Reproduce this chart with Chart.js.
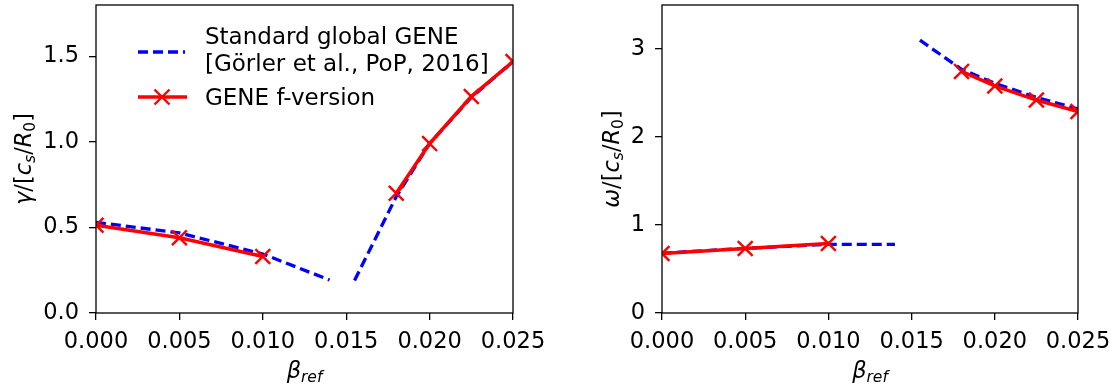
<!DOCTYPE html>
<html>
<head>
<meta charset="utf-8">
<script src="https://cdn.jsdelivr.net/npm/chart.js@4.4.1/dist/chart.umd.min.js"></script>
<style>
  body { margin: 0; background: #fff; }
  .panel { position: absolute; top: 0; height: 390px; }
</style>
</head>
<body>
<div class="panel" style="left:0;width:556px"><canvas id="gammaChart" width="556" height="390"></canvas></div>
<div class="panel" style="left:556px;width:557px"><canvas id="omegaChart" width="557" height="390"></canvas></div>
<script>
// beta_ref values (two branches, the mode changes near 0.015)
const betaLow = [0, 0.005, 0.010];
const betaHigh = [0.018, 0.020, 0.0225, 0.025];
const stdBetaLow = [0, 0.005, 0.010, 0.014];
const stdBetaHigh = [0.0155, 0.018, 0.020, 0.0225, 0.025];

// growth rate gamma / [c_s/R_0]
const gammaStdLow = [0.53, 0.468, 0.345, 0.193];
const gammaStdHigh = [0.19, 0.68, 0.99, 1.26, 1.47];
const gammaFLow = [0.513, 0.44, 0.33];
const gammaFHigh = [0.70, 0.99, 1.265, 1.47];

// real frequency omega / [c_s/R_0]
const omegaStdLow = [0.68, 0.735, 0.78, 0.78];
const omegaStdHigh = [3.10, 2.77, 2.61, 2.45, 2.32];
const omegaFLow = [0.676, 0.733, 0.79];
const omegaFHigh = [2.745, 2.58, 2.42, 2.29];

// tick labels
const xTicks = [0, 0.005, 0.010, 0.015, 0.020, 0.025];
const gammaTicks = [0, 0.5, 1.0, 1.5];
const omegaTicks = [0, 1, 2, 3];

const BLUE = "#0000ff";
const RED = "#ff0000";
const FAMILY = "DejaVu Sans";

function pts(xs, ys) {
  return xs.map((x, i) => ({ x: x, y: ys[i] }));
}

function stdDataset(xs, ys) {
  return {
    data: pts(xs, ys),
    borderColor: BLUE,
    borderWidth: 3.3,
    borderDash: [10, 5],
    pointRadius: 0,
    fill: false,
    tension: 0,
    order: 1,
  };
}

function fDataset(xs, ys) {
  return {
    data: pts(xs, ys),
    borderColor: RED,
    borderWidth: 3.5,
    pointStyle: "crossRot",
    pointRadius: 10.5,
    pointBorderWidth: 2.4,
    pointBorderColor: RED,
    pointBackgroundColor: RED,
    fill: false,
    tension: 0,
    order: 0,
  };
}

// draw a label made of pieces (italic / subscript), centred on (cx, cy)
function drawRich(ctx, parts, cx, cy, angle) {
  ctx.save();
  ctx.translate(cx, cy);
  ctx.rotate(angle);
  const fontOf = (p) =>
    (p.it ? "oblique " : "") + (p.sub ? 15.5 : 22.5) + "px '" + FAMILY + "'";
  let total = 0;
  parts.forEach((p) => {
    ctx.font = fontOf(p);
    p.w = ctx.measureText(p.t).width;
    total += p.w;
  });
  let x = -total / 2;
  ctx.fillStyle = "#000";
  ctx.textBaseline = "alphabetic";
  ctx.textAlign = "left";
  parts.forEach((p) => {
    ctx.font = fontOf(p);
    ctx.fillText(p.t, x, p.sub ? 11 : 7);
    x += p.w;
  });
  ctx.restore();
}

function yTitleParts(symbol) {
  return [
    { t: symbol, it: true },
    { t: "/[" },
    { t: "c", it: true },
    { t: "s", it: true, sub: true },
    { t: "/" },
    { t: "R", it: true },
    { t: "0", sub: true },
    { t: "]" },
  ];
}
const betaParts = [
  { t: "β", it: true },
  { t: "ref", it: true, sub: true },
];

// box around the axes + axis titles
function framePlugin(symbol, titleX) {
  return {
    id: "frame",
    afterDraw(chart) {
      const ctx = chart.ctx;
      const a = chart.chartArea;
      ctx.save();
      ctx.strokeStyle = "#000";
      ctx.lineWidth = 1.3;
      ctx.strokeRect(a.left, a.top, a.right - a.left, a.bottom - a.top);
      ctx.restore();
      drawRich(ctx, yTitleParts(symbol), titleX, (a.top + a.bottom) / 2, -Math.PI / 2);
      drawRich(ctx, betaParts, (a.left + a.right) / 2, 371, 0);
    },
  };
}

const legendPlugin = {
  id: "customLegend",
  afterDraw(chart) {
    const ctx = chart.ctx;
    ctx.save();
    ctx.lineCap = "butt";
    // standard global GENE
    ctx.strokeStyle = BLUE;
    ctx.lineWidth = 3.3;
    ctx.setLineDash([10, 5]);
    ctx.beginPath();
    ctx.moveTo(138, 52);
    ctx.lineTo(185, 52);
    ctx.stroke();
    ctx.setLineDash([]);
    // GENE f-version
    ctx.strokeStyle = RED;
    ctx.lineWidth = 3.5;
    ctx.beginPath();
    ctx.moveTo(138, 97);
    ctx.lineTo(187, 97);
    ctx.stroke();
    ctx.lineWidth = 2.4;
    ctx.beginPath();
    ctx.moveTo(154.5, 89.5);
    ctx.lineTo(169.5, 104.5);
    ctx.moveTo(154.5, 104.5);
    ctx.lineTo(169.5, 89.5);
    ctx.stroke();
    ctx.fillStyle = "#000";
    ctx.font = "23px '" + FAMILY + "'";
    ctx.textBaseline = "alphabetic";
    ctx.fillText("Standard global GENE", 205, 44);
    ctx.fillText("[Görler et al., PoP, 2016]", 205, 71);
    ctx.fillText("GENE f-version", 205, 105);
    ctx.restore();
  },
};

function makeOptions(yTickValues, yMax, yDigits, yAxisWidth, rightPad) {
  return {
    responsive: false,
    animation: false,
    layout: { autoPadding: false, padding: { left: 0, right: rightPad, top: 5, bottom: 0 } },
    plugins: { legend: { display: false }, tooltip: { enabled: false } },
    scales: {
      x: {
        type: "linear",
        min: 0,
        max: 0.025,
        afterBuildTicks: (s) => {
          s.ticks = xTicks.map((v) => ({ value: v }));
        },
        afterFit: (s) => {
          s.height = 77;
          s.paddingLeft = 0;
          s.paddingRight = 0;
        },
        ticks: {
          callback: (v) => v.toFixed(3),
          font: { family: FAMILY, size: 22.5 },
          color: "#000",
          padding: 9,
          maxRotation: 0,
          autoSkip: false,
        },
        grid: { drawOnChartArea: false, tickLength: 7, color: "#000", lineWidth: 1.3 },
        border: { display: false },
      },
      y: {
        type: "linear",
        min: 0,
        max: yMax,
        afterBuildTicks: (s) => {
          s.ticks = yTickValues.map((v) => ({ value: v }));
        },
        afterFit: (s) => {
          s.width = yAxisWidth;
          s.paddingTop = 0;
          s.paddingBottom = 0;
        },
        ticks: {
          callback: (v) => v.toFixed(yDigits),
          font: { family: FAMILY, size: 22.5, lineHeight: 0.4 },
          color: "#000",
          padding: 10,
        },
        grid: { drawOnChartArea: false, tickLength: 7, color: "#000", lineWidth: 1.3 },
        border: { display: false },
      },
    },
  };
}

new Chart(document.getElementById("gammaChart").getContext("2d"), {
  type: "line",
  data: {
    datasets: [
      stdDataset(stdBetaLow, gammaStdLow),
      stdDataset(stdBetaHigh, gammaStdHigh),
      fDataset(betaLow, gammaFLow),
      fDataset(betaHigh, gammaFHigh),
    ],
  },
  options: makeOptions(gammaTicks, 1.8, 1, 96, 43),
  plugins: [framePlugin("γ", 24), legendPlugin],
});

new Chart(document.getElementById("omegaChart").getContext("2d"), {
  type: "line",
  data: {
    datasets: [
      stdDataset(stdBetaLow, omegaStdLow),
      stdDataset(stdBetaHigh, omegaStdHigh),
      fDataset(betaLow, omegaFLow),
      fDataset(betaHigh, omegaFHigh),
    ],
  },
  options: makeOptions(omegaTicks, 3.5, 0, 106, 35),
  plugins: [framePlugin("ω", 56)],
});
</script>
</body>
</html>
